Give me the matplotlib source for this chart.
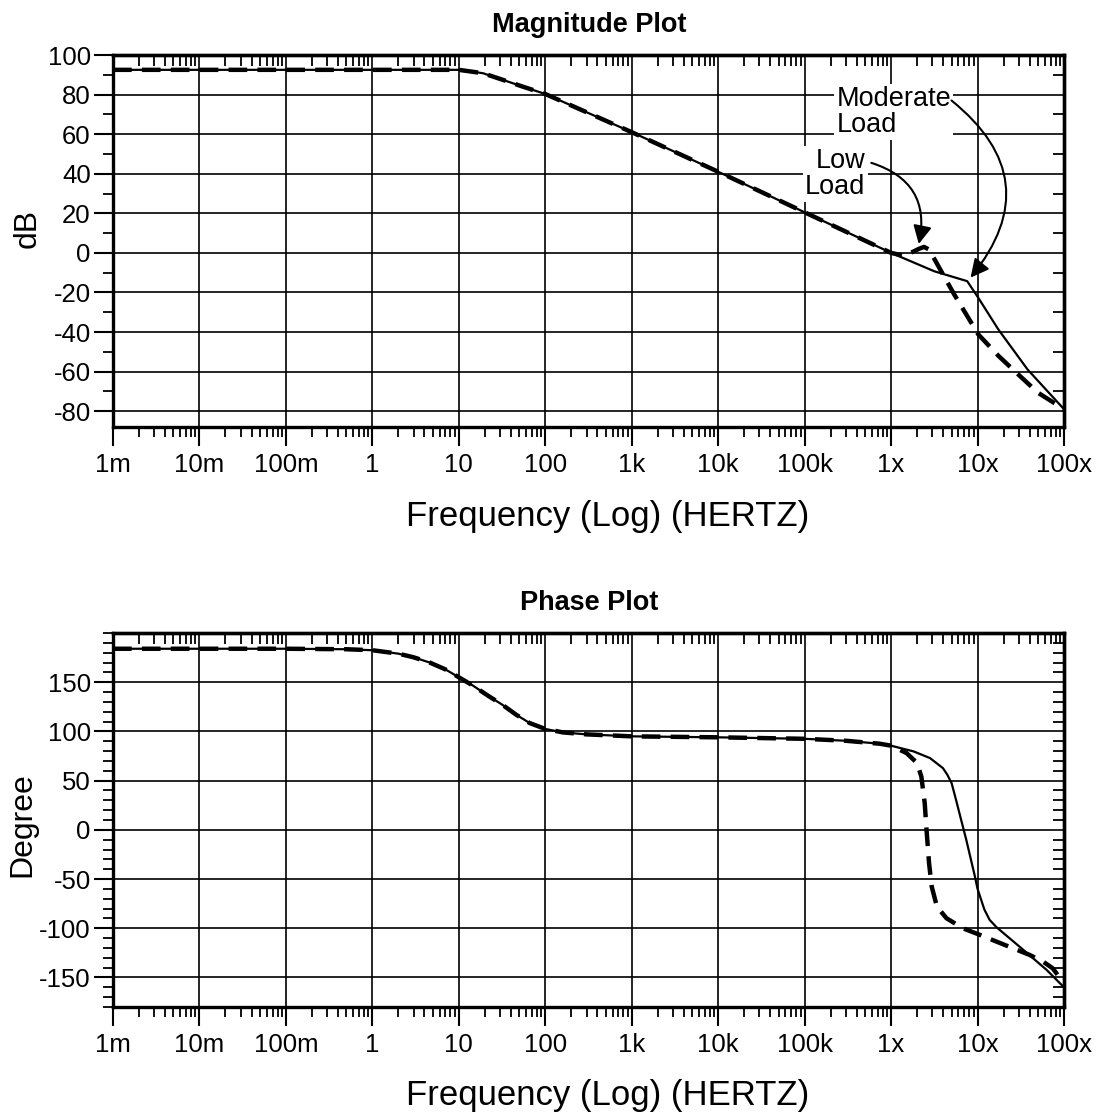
import numpy as np
import matplotlib
matplotlib.use("Agg")
import matplotlib.pyplot as plt
from matplotlib.ticker import MultipleLocator, LogLocator, FixedLocator, NullFormatter

plt.rcParams['font.family'] = ['Liberation Sans', 'DejaVu Sans']
plt.rcParams['axes.unicode_minus'] = False

# ---------------- data ----------------
decade_ticks = [1e-3, 1e-2, 1e-1, 1, 10, 100, 1e3, 1e4, 1e5, 1e6, 1e7, 1e8]
decade_labels = ['1m', '10m', '100m', '1', '10', '100', '1k', '10k', '100k', '1x', '10x', '100x']

# Magnitude (dB) - shared low-frequency part
mag_freq_common = [1e-3, 1e-2, 0.1, 1, 10, 19, 32, 55, 100, 1e3, 1e4, 1e5, 1e6]
mag_db_common = [92.5, 92.5, 92.5, 92.5, 92.5, 90.8, 87.5, 84.0, 80.3, 61.0, 41.0, 20.5, 0.0]
# Moderate load (solid) high-frequency part
mag_mod_freq = [3.16e6, 7.59e6, 1.02e7, 1.74e7, 3.8e7, 1e8]
mag_mod_db = [-9.3, -14.3, -22.7, -38.7, -59.0, -79.0]
# Low load (dashed) high-frequency part
mag_low_freq = [1.41e6, 1.78e6, 2.09e6, 2.4e6, 2.75e6, 5.37e6, 1.02e7, 1.74e7, 2.95e7, 5.01e7, 1e8]
mag_low_db = [-1.5, 0.5, 2.0, 3.0, 1.7, -21.0, -41.2, -52.0, -61.4, -70.7, -79.0]

# Phase (degree) - shared part
ph_freq_common = [1e-3, 0.1, 0.5, 1, 2, 3, 4.6, 7, 10, 14.6, 22, 32, 46, 66, 100, 160,
                  300, 1e3, 1e4, 1e5, 3e5, 7.4e5, 1e6]
ph_deg_common = [184, 184, 183.5, 182.5, 179, 175.3, 170, 163, 155, 146.5, 136, 127, 117,
                 108.5, 102.5, 99, 97, 95, 94, 92.5, 90.5, 87.5, 85.5]
# Moderate load (solid)
ph_mod_freq = [1.82e6, 2.82e6, 3.98e6, 4.47e6, 5.01e6, 5.62e6, 6.31e6, 7.41e6, 8.32e6, 9.33e6,
               1.0e7, 1.07e7, 1.2e7, 1.38e7, 1.66e7, 2.0e7, 3.39e7, 6.31e7, 1e8]
ph_mod_deg = [79.7, 72.9, 62.7, 56.0, 47.5, 31.0, 13.6, -10.2, -29.0, -47.5,
              -60.0, -67.8, -81.0, -91.5, -99.0, -105, -122, -142.4, -160]
# Low load (dashed)
ph_low_freq = [1.51e6, 2.0e6, 2.24e6, 2.45e6, 2.57e6, 2.75e6, 2.95e6, 3.39e6, 4.37e6, 6.76e6,
               1.07e7, 1.66e7, 2.57e7, 3.98e7, 5.75e7, 7.41e7, 9.33e7, 1e8]
ph_low_deg = [78, 67.8, 54, 27, 0, -34, -57.6, -78, -89.8, -100, -106.8, -113.6, -120.3,
              -127, -134, -140.7, -152.5, -155]

mag_yticks = [100, 80, 60, 40, 20, 0, -20, -40, -60, -80]
ph_yticks = [150, 100, 50, 0, -50, -100, -150]

# ---------------- figure ----------------
W, H = 1103, 1116
fig = plt.figure(figsize=(W / 100, H / 100), dpi=100)

def px_ax(left, right, top, bottom):
    return [left / W, 1 - bottom / H, (right - left) / W, (bottom - top) / H]

ax1 = fig.add_axes(px_ax(113, 1064, 55, 427))
ax2 = fig.add_axes(px_ax(113, 1064, 633, 1007))

solid_kw = dict(color='black', lw=1.6, solid_joinstyle='round', zorder=3)
dash_kw = dict(color='black', lw=3.2, ls=(0, (4.2, 2.3)), zorder=4)

ax1.plot(mag_freq_common + mag_mod_freq, mag_db_common + mag_mod_db, **solid_kw)
ax1.plot(mag_freq_common + mag_low_freq, mag_db_common + mag_low_db, **dash_kw)

ax2.plot(ph_freq_common + ph_mod_freq, ph_deg_common + ph_mod_deg, **solid_kw)
ax2.plot(ph_freq_common + ph_low_freq, ph_deg_common + ph_low_deg, **dash_kw)

TICK_FS = 18.5

def style(ax, ylim, yticks, yminor):
    ax.set_xscale('log')
    ax.set_xlim(1e-3, 1e8)
    ax.set_ylim(*ylim)
    ax.set_xticks(decade_ticks, decade_labels)
    ax.xaxis.set_minor_locator(LogLocator(base=10, subs=np.arange(2, 10), numticks=200))
    ax.xaxis.set_minor_formatter(NullFormatter())
    ax.set_yticks(yticks)
    ax.yaxis.set_minor_locator(MultipleLocator(yminor))
    ax.grid(True, which='major', color='black', lw=1.2)
    ax.set_axisbelow(True)
    ax.tick_params(which='major', direction='out', length=14, width=1.5,
                   labelsize=TICK_FS, color='black')
    ax.tick_params(axis='x', which='major', pad=5)
    ax.tick_params(axis='y', which='major', pad=2)
    ax.tick_params(which='minor', direction='out', length=7, width=1.3)
    for s in ax.spines.values():
        s.set_linewidth(2.4)
    # inward ticks on top / right
    sx = ax.secondary_xaxis('top')
    sx.xaxis.set_major_locator(FixedLocator(decade_ticks))
    sx.xaxis.set_minor_locator(LogLocator(base=10, subs=np.arange(2, 10), numticks=200))
    sx.tick_params(which='both', direction='in', labeltop=False, width=1.3)
    sx.tick_params(which='major', length=0)
    sx.tick_params(which='minor', length=8)
    sx.spines['top'].set_linewidth(2.4)
    sy = ax.secondary_yaxis('right')
    sy.yaxis.set_major_locator(FixedLocator(yticks))
    sy.yaxis.set_minor_locator(MultipleLocator(yminor))
    sy.tick_params(which='both', direction='in', labelright=False, width=1.3)
    sy.tick_params(which='major', length=0)
    sy.tick_params(which='minor', length=8)
    sy.spines['right'].set_linewidth(2.4)

style(ax1, (-88, 100), mag_yticks, 10)
style(ax2, (-180, 200), ph_yticks, 10)

# titles and labels (pixel positions from the reference)
def ftxt(x, y, s, **kw):
    fig.text(x / W, 1 - y / H, s, **kw)

ftxt(589, 32, 'Magnitude Plot', ha='center', va='baseline', fontsize=19.5, fontweight='bold')
ftxt(589, 610, 'Phase Plot', ha='center', va='baseline', fontsize=19.5, fontweight='bold')
ftxt(608, 526, 'Frequency (Log) (HERTZ)', ha='center', va='baseline', fontsize=25)
ftxt(608, 1105, 'Frequency (Log) (HERTZ)', ha='center', va='baseline', fontsize=25)
ftxt(28, 228, 'dB', ha='center', va='center', rotation=90, fontsize=23)
ftxt(22, 825, 'Degree', ha='center', va='center', rotation=90, fontsize=23)

# annotations
box = dict(fc='white', ec='none', pad=1.5)
ax1.text(2.34e5, 71.3, 'Moderate\nLoad', ha='left', va='center', fontsize=19.5,
         linespacing=1.0, bbox=box, zorder=5)
ax1.text(5.07e5, 39.7, 'Low\nLoad', ha='right', va='center', fontsize=19.5,
         linespacing=1.0, multialignment='right', bbox=box, zorder=5)

arrow_kw = dict(arrowstyle='-|>,head_length=0.55,head_width=0.28', color='black', lw=1.5,
                mutation_scale=20, shrinkA=0, shrinkB=0)
ax1.annotate('', xy=(2.09e6, 4.5), xytext=(5.9e5, 45.5),
             arrowprops=dict(connectionstyle='arc3,rad=-0.45', **arrow_kw), zorder=6)
ax1.annotate('', xy=(8.3e6, -12.5), xytext=(5.0e6, 77),
             arrowprops=dict(connectionstyle='arc3,rad=-0.5', **arrow_kw), zorder=6)

fig.savefig('out.png', dpi=100)
